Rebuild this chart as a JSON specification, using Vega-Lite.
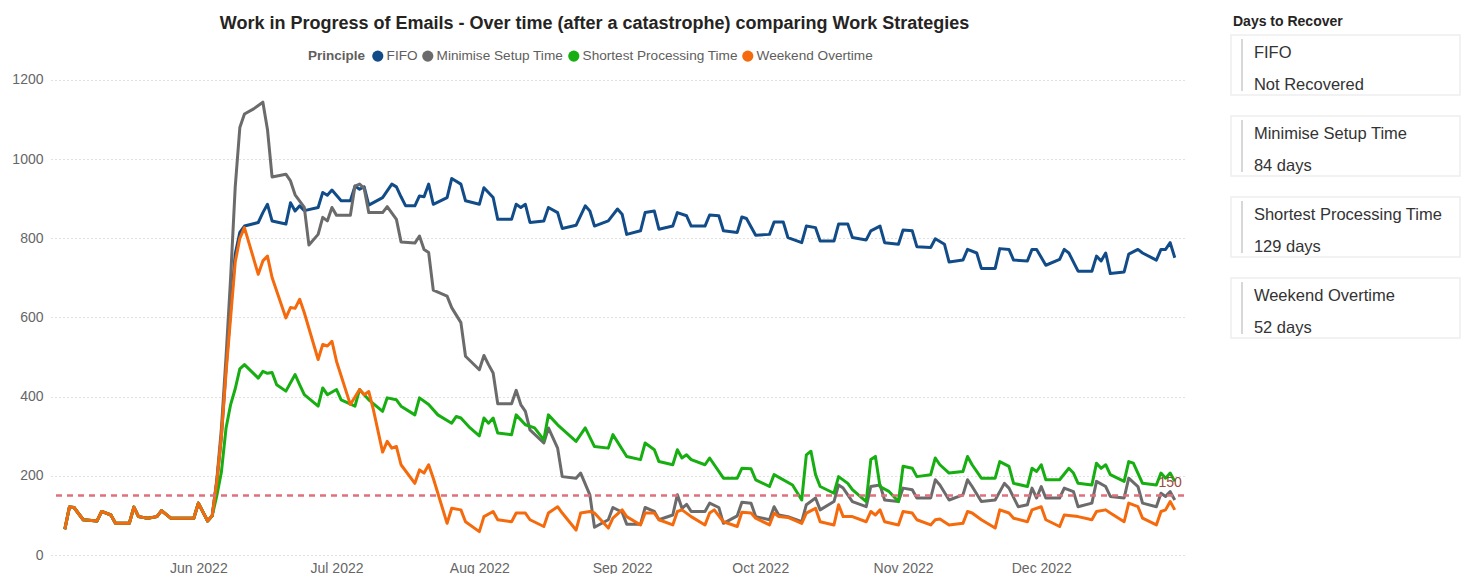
{
  "$schema": "https://vega.github.io/schema/vega-lite/v6.json",
  "background": "white",
  "padding": {"left": 11, "top": 15, "right": 0, "bottom": 0},
  "spacing": 44,
  "datasets": {
    "fifo": [
      {"d":"2022-05-03","v":65},{"d":"2022-05-04","v":121},{"d":"2022-05-05","v":120},{"d":"2022-05-07","v":89},{"d":"2022-05-10","v":86},{"d":"2022-05-11","v":110},{"d":"2022-05-13","v":101},{"d":"2022-05-14","v":80},{"d":"2022-05-17","v":80},{"d":"2022-05-18","v":121},{"d":"2022-05-19","v":97},{"d":"2022-05-21","v":93},{"d":"2022-05-23","v":97},{"d":"2022-05-24","v":112},{"d":"2022-05-26","v":93},{"d":"2022-05-31","v":93},{"d":"2022-06-01","v":131},{"d":"2022-06-03","v":86},{"d":"2022-06-04","v":99},
      {"d":"2022-06-05","v":185},{"d":"2022-06-06","v":300},{"d":"2022-06-07","v":470},{"d":"2022-06-08","v":620},{"d":"2022-06-09","v":760},{"d":"2022-06-10","v":815},{"d":"2022-06-11","v":831},{"d":"2022-06-14","v":840},{"d":"2022-06-15","v":865},{"d":"2022-06-16","v":886},{"d":"2022-06-17","v":844},{"d":"2022-06-20","v":836},{"d":"2022-06-21","v":890},{"d":"2022-06-22","v":869},{"d":"2022-06-23","v":882},{"d":"2022-06-24","v":870},{"d":"2022-06-27","v":878},{"d":"2022-06-28","v":916},{"d":"2022-06-29","v":909},{"d":"2022-06-30","v":922},{"d":"2022-07-02","v":895},{"d":"2022-07-04","v":895},{"d":"2022-07-05","v":932},{"d":"2022-07-06","v":924},{"d":"2022-07-07","v":930},{"d":"2022-07-08","v":884},{"d":"2022-07-11","v":903},{"d":"2022-07-13","v":937},{"d":"2022-07-14","v":930},{"d":"2022-07-15","v":905},{"d":"2022-07-16","v":882},{"d":"2022-07-18","v":882},{"d":"2022-07-19","v":907},{"d":"2022-07-20","v":905},{"d":"2022-07-21","v":937},{"d":"2022-07-22","v":886},{"d":"2022-07-25","v":903},{"d":"2022-07-26","v":951},{"d":"2022-07-28","v":937},{"d":"2022-07-29","v":895},{"d":"2022-08-01","v":886},{"d":"2022-08-02","v":928},{"d":"2022-08-04","v":903},{"d":"2022-08-05","v":848},{"d":"2022-08-08","v":848},{"d":"2022-08-09","v":886},{"d":"2022-08-10","v":878},{"d":"2022-08-11","v":886},{"d":"2022-08-12","v":840},{"d":"2022-08-15","v":844},{"d":"2022-08-16","v":878},{"d":"2022-08-18","v":865},{"d":"2022-08-19","v":825},{"d":"2022-08-22","v":833},{"d":"2022-08-24","v":882},{"d":"2022-08-25","v":869},{"d":"2022-08-26","v":831},{"d":"2022-08-29","v":844},{"d":"2022-08-31","v":874},{"d":"2022-09-01","v":861},{"d":"2022-09-02","v":810},{"d":"2022-09-05","v":819},{"d":"2022-09-06","v":865},{"d":"2022-09-08","v":869},{"d":"2022-09-09","v":823},{"d":"2022-09-12","v":831},{"d":"2022-09-13","v":865},{"d":"2022-09-15","v":857},{"d":"2022-09-16","v":831},{"d":"2022-09-19","v":831},{"d":"2022-09-20","v":859},{"d":"2022-09-22","v":857},{"d":"2022-09-23","v":819},{"d":"2022-09-26","v":815},{"d":"2022-09-27","v":854},{"d":"2022-09-28","v":850},{"d":"2022-09-30","v":808},{"d":"2022-10-03","v":810},{"d":"2022-10-04","v":841},{"d":"2022-10-06","v":841},{"d":"2022-10-07","v":802},{"d":"2022-10-10","v":789},{"d":"2022-10-11","v":831},{"d":"2022-10-13","v":827},{"d":"2022-10-14","v":793},{"d":"2022-10-17","v":793},{"d":"2022-10-18","v":836},{"d":"2022-10-20","v":836},{"d":"2022-10-21","v":802},{"d":"2022-10-24","v":796},{"d":"2022-10-25","v":819},{"d":"2022-10-27","v":831},{"d":"2022-10-28","v":789},{"d":"2022-10-31","v":785},{"d":"2022-11-01","v":821},{"d":"2022-11-03","v":819},{"d":"2022-11-04","v":779},{"d":"2022-11-07","v":777},{"d":"2022-11-08","v":799},{"d":"2022-11-10","v":785},{"d":"2022-11-11","v":740},{"d":"2022-11-14","v":745},{"d":"2022-11-15","v":772},{"d":"2022-11-17","v":763},{"d":"2022-11-18","v":724},{"d":"2022-11-21","v":724},{"d":"2022-11-22","v":774},{"d":"2022-11-24","v":772},{"d":"2022-11-25","v":745},{"d":"2022-11-28","v":743},{"d":"2022-11-29","v":772},{"d":"2022-11-30","v":772},{"d":"2022-12-02","v":732},{"d":"2022-12-05","v":747},{"d":"2022-12-06","v":772},{"d":"2022-12-07","v":763},{"d":"2022-12-09","v":717},{"d":"2022-12-12","v":717},{"d":"2022-12-13","v":755},{"d":"2022-12-14","v":743},{"d":"2022-12-15","v":763},{"d":"2022-12-16","v":711},{"d":"2022-12-19","v":715},{"d":"2022-12-20","v":760},{"d":"2022-12-22","v":772},{"d":"2022-12-23","v":763},{"d":"2022-12-26","v":745},{"d":"2022-12-27","v":772},{"d":"2022-12-28","v":772},{"d":"2022-12-29","v":789},{"d":"2022-12-30","v":751}
    ],
    "mst": [
      {"d":"2022-05-03","v":65},{"d":"2022-05-04","v":121},{"d":"2022-05-05","v":120},{"d":"2022-05-07","v":89},{"d":"2022-05-10","v":86},{"d":"2022-05-11","v":110},{"d":"2022-05-13","v":101},{"d":"2022-05-14","v":80},{"d":"2022-05-17","v":80},{"d":"2022-05-18","v":121},{"d":"2022-05-19","v":97},{"d":"2022-05-21","v":93},{"d":"2022-05-23","v":97},{"d":"2022-05-24","v":112},{"d":"2022-05-26","v":93},{"d":"2022-05-31","v":93},{"d":"2022-06-01","v":131},{"d":"2022-06-03","v":86},{"d":"2022-06-04","v":99},
      {"d":"2022-06-05","v":190},{"d":"2022-06-06","v":320},{"d":"2022-06-07","v":500},{"d":"2022-06-08","v":700},{"d":"2022-06-09","v":930},{"d":"2022-06-10","v":1080},{"d":"2022-06-11","v":1114},{"d":"2022-06-13","v":1127},{"d":"2022-06-15","v":1144},{"d":"2022-06-16","v":1075},{"d":"2022-06-17","v":955},{"d":"2022-06-20","v":962},{"d":"2022-06-21","v":945},{"d":"2022-06-22","v":910},{"d":"2022-06-24","v":878},{"d":"2022-06-25","v":783},{"d":"2022-06-27","v":810},{"d":"2022-06-28","v":853},{"d":"2022-06-29","v":844},{"d":"2022-06-30","v":878},{"d":"2022-07-01","v":858},{"d":"2022-07-04","v":858},{"d":"2022-07-05","v":932},{"d":"2022-07-06","v":937},{"d":"2022-07-07","v":926},{"d":"2022-07-08","v":865},{"d":"2022-07-11","v":865},{"d":"2022-07-12","v":880},{"d":"2022-07-14","v":848},{"d":"2022-07-15","v":791},{"d":"2022-07-18","v":788},{"d":"2022-07-19","v":806},{"d":"2022-07-20","v":772},{"d":"2022-07-21","v":764},{"d":"2022-07-22","v":669},{"d":"2022-07-25","v":654},{"d":"2022-07-26","v":625},{"d":"2022-07-28","v":587},{"d":"2022-07-29","v":502},{"d":"2022-08-01","v":468},{"d":"2022-08-02","v":504},{"d":"2022-08-03","v":481},{"d":"2022-08-04","v":460},{"d":"2022-08-05","v":382},{"d":"2022-08-08","v":382},{"d":"2022-08-09","v":416},{"d":"2022-08-10","v":380},{"d":"2022-08-11","v":363},{"d":"2022-08-12","v":316},{"d":"2022-08-15","v":283},{"d":"2022-08-16","v":321},{"d":"2022-08-18","v":270},{"d":"2022-08-19","v":198},{"d":"2022-08-22","v":194},{"d":"2022-08-23","v":207},{"d":"2022-08-25","v":152},{"d":"2022-08-26","v":70},{"d":"2022-08-29","v":89},{"d":"2022-08-30","v":120},{"d":"2022-09-01","v":108},{"d":"2022-09-02","v":78},{"d":"2022-09-05","v":78},{"d":"2022-09-06","v":120},{"d":"2022-09-08","v":110},{"d":"2022-09-09","v":89},{"d":"2022-09-12","v":101},{"d":"2022-09-13","v":152},{"d":"2022-09-14","v":118},{"d":"2022-09-15","v":128},{"d":"2022-09-16","v":110},{"d":"2022-09-19","v":110},{"d":"2022-09-20","v":131},{"d":"2022-09-22","v":120},{"d":"2022-09-23","v":80},{"d":"2022-09-26","v":99},{"d":"2022-09-27","v":133},{"d":"2022-09-29","v":131},{"d":"2022-09-30","v":97},{"d":"2022-10-03","v":89},{"d":"2022-10-04","v":122},{"d":"2022-10-05","v":101},{"d":"2022-10-07","v":97},{"d":"2022-10-10","v":84},{"d":"2022-10-11","v":127},{"d":"2022-10-13","v":144},{"d":"2022-10-14","v":114},{"d":"2022-10-17","v":135},{"d":"2022-10-18","v":177},{"d":"2022-10-19","v":169},{"d":"2022-10-21","v":135},{"d":"2022-10-24","v":122},{"d":"2022-10-25","v":173},{"d":"2022-10-27","v":177},{"d":"2022-10-28","v":139},{"d":"2022-10-31","v":135},{"d":"2022-11-01","v":169},{"d":"2022-11-03","v":165},{"d":"2022-11-04","v":144},{"d":"2022-11-07","v":144},{"d":"2022-11-08","v":190},{"d":"2022-11-09","v":177},{"d":"2022-11-11","v":139},{"d":"2022-11-14","v":152},{"d":"2022-11-15","v":190},{"d":"2022-11-16","v":173},{"d":"2022-11-18","v":135},{"d":"2022-11-21","v":139},{"d":"2022-11-23","v":181},{"d":"2022-11-24","v":169},{"d":"2022-11-26","v":122},{"d":"2022-11-28","v":127},{"d":"2022-11-29","v":169},{"d":"2022-11-30","v":144},{"d":"2022-12-01","v":173},{"d":"2022-12-02","v":144},{"d":"2022-12-05","v":144},{"d":"2022-12-06","v":169},{"d":"2022-12-08","v":160},{"d":"2022-12-09","v":122},{"d":"2022-12-12","v":131},{"d":"2022-12-13","v":186},{"d":"2022-12-15","v":173},{"d":"2022-12-16","v":148},{"d":"2022-12-19","v":144},{"d":"2022-12-20","v":194},{"d":"2022-12-22","v":173},{"d":"2022-12-23","v":131},{"d":"2022-12-26","v":122},{"d":"2022-12-27","v":156},{"d":"2022-12-28","v":148},{"d":"2022-12-29","v":160},{"d":"2022-12-30","v":139}
    ],
    "spt": [
      {"d":"2022-05-03","v":65},{"d":"2022-05-04","v":121},{"d":"2022-05-05","v":120},{"d":"2022-05-07","v":89},{"d":"2022-05-10","v":86},{"d":"2022-05-11","v":110},{"d":"2022-05-13","v":101},{"d":"2022-05-14","v":80},{"d":"2022-05-17","v":80},{"d":"2022-05-18","v":121},{"d":"2022-05-19","v":97},{"d":"2022-05-21","v":93},{"d":"2022-05-23","v":97},{"d":"2022-05-24","v":112},{"d":"2022-05-26","v":93},{"d":"2022-05-31","v":93},{"d":"2022-06-01","v":131},{"d":"2022-06-03","v":86},{"d":"2022-06-04","v":99},
      {"d":"2022-06-05","v":150},{"d":"2022-06-06","v":210},{"d":"2022-06-07","v":320},{"d":"2022-06-08","v":380},{"d":"2022-06-09","v":420},{"d":"2022-06-10","v":470},{"d":"2022-06-11","v":481},{"d":"2022-06-14","v":447},{"d":"2022-06-15","v":464},{"d":"2022-06-16","v":459},{"d":"2022-06-17","v":461},{"d":"2022-06-18","v":430},{"d":"2022-06-20","v":414},{"d":"2022-06-22","v":456},{"d":"2022-06-23","v":430},{"d":"2022-06-24","v":405},{"d":"2022-06-27","v":376},{"d":"2022-06-28","v":422},{"d":"2022-06-29","v":405},{"d":"2022-07-01","v":418},{"d":"2022-07-02","v":392},{"d":"2022-07-05","v":376},{"d":"2022-07-06","v":418},{"d":"2022-07-07","v":405},{"d":"2022-07-08","v":392},{"d":"2022-07-11","v":363},{"d":"2022-07-12","v":397},{"d":"2022-07-14","v":392},{"d":"2022-07-15","v":376},{"d":"2022-07-18","v":354},{"d":"2022-07-19","v":397},{"d":"2022-07-21","v":380},{"d":"2022-07-23","v":354},{"d":"2022-07-26","v":333},{"d":"2022-07-27","v":350},{"d":"2022-07-28","v":346},{"d":"2022-07-30","v":321},{"d":"2022-08-01","v":301},{"d":"2022-08-02","v":346},{"d":"2022-08-03","v":333},{"d":"2022-08-04","v":346},{"d":"2022-08-05","v":308},{"d":"2022-08-08","v":304},{"d":"2022-08-09","v":354},{"d":"2022-08-11","v":329},{"d":"2022-08-13","v":321},{"d":"2022-08-15","v":291},{"d":"2022-08-16","v":354},{"d":"2022-08-18","v":329},{"d":"2022-08-20","v":308},{"d":"2022-08-22","v":287},{"d":"2022-08-24","v":321},{"d":"2022-08-26","v":274},{"d":"2022-08-29","v":270},{"d":"2022-08-30","v":304},{"d":"2022-09-02","v":249},{"d":"2022-09-05","v":241},{"d":"2022-09-06","v":283},{"d":"2022-09-08","v":266},{"d":"2022-09-09","v":236},{"d":"2022-09-12","v":228},{"d":"2022-09-13","v":266},{"d":"2022-09-14","v":245},{"d":"2022-09-15","v":253},{"d":"2022-09-16","v":241},{"d":"2022-09-19","v":228},{"d":"2022-09-20","v":245},{"d":"2022-09-23","v":194},{"d":"2022-09-26","v":194},{"d":"2022-09-27","v":219},{"d":"2022-09-29","v":218},{"d":"2022-09-30","v":190},{"d":"2022-10-03","v":173},{"d":"2022-10-04","v":203},{"d":"2022-10-08","v":177},{"d":"2022-10-10","v":139},{"d":"2022-10-11","v":253},{"d":"2022-10-12","v":262},{"d":"2022-10-13","v":203},{"d":"2022-10-14","v":173},{"d":"2022-10-17","v":156},{"d":"2022-10-18","v":198},{"d":"2022-10-20","v":181},{"d":"2022-10-21","v":165},{"d":"2022-10-24","v":135},{"d":"2022-10-25","v":241},{"d":"2022-10-26","v":249},{"d":"2022-10-27","v":173},{"d":"2022-10-29","v":160},{"d":"2022-10-31","v":135},{"d":"2022-11-01","v":224},{"d":"2022-11-03","v":219},{"d":"2022-11-04","v":198},{"d":"2022-11-07","v":203},{"d":"2022-11-08","v":245},{"d":"2022-11-09","v":228},{"d":"2022-11-11","v":207},{"d":"2022-11-14","v":211},{"d":"2022-11-15","v":249},{"d":"2022-11-16","v":228},{"d":"2022-11-18","v":194},{"d":"2022-11-21","v":194},{"d":"2022-11-22","v":236},{"d":"2022-11-24","v":224},{"d":"2022-11-25","v":181},{"d":"2022-11-28","v":173},{"d":"2022-11-29","v":219},{"d":"2022-11-30","v":211},{"d":"2022-12-01","v":228},{"d":"2022-12-02","v":190},{"d":"2022-12-05","v":190},{"d":"2022-12-07","v":219},{"d":"2022-12-08","v":207},{"d":"2022-12-09","v":181},{"d":"2022-12-12","v":177},{"d":"2022-12-13","v":232},{"d":"2022-12-14","v":219},{"d":"2022-12-15","v":228},{"d":"2022-12-16","v":203},{"d":"2022-12-19","v":186},{"d":"2022-12-20","v":236},{"d":"2022-12-21","v":232},{"d":"2022-12-23","v":181},{"d":"2022-12-26","v":177},{"d":"2022-12-27","v":207},{"d":"2022-12-28","v":194},{"d":"2022-12-29","v":207},{"d":"2022-12-30","v":186}
    ],
    "wo": [
      {"d":"2022-05-03","v":65},{"d":"2022-05-04","v":121},{"d":"2022-05-05","v":120},{"d":"2022-05-07","v":89},{"d":"2022-05-10","v":86},{"d":"2022-05-11","v":110},{"d":"2022-05-13","v":101},{"d":"2022-05-14","v":80},{"d":"2022-05-17","v":80},{"d":"2022-05-18","v":121},{"d":"2022-05-19","v":97},{"d":"2022-05-21","v":93},{"d":"2022-05-23","v":97},{"d":"2022-05-24","v":112},{"d":"2022-05-26","v":93},{"d":"2022-05-31","v":93},{"d":"2022-06-01","v":131},{"d":"2022-06-03","v":86},{"d":"2022-06-04","v":99},
      {"d":"2022-06-05","v":185},{"d":"2022-06-06","v":300},{"d":"2022-06-07","v":460},{"d":"2022-06-08","v":600},{"d":"2022-06-09","v":740},{"d":"2022-06-10","v":800},{"d":"2022-06-11","v":827},{"d":"2022-06-14","v":709},{"d":"2022-06-15","v":743},{"d":"2022-06-16","v":755},{"d":"2022-06-17","v":701},{"d":"2022-06-20","v":599},{"d":"2022-06-21","v":625},{"d":"2022-06-22","v":623},{"d":"2022-06-23","v":646},{"d":"2022-06-24","v":612},{"d":"2022-06-27","v":494},{"d":"2022-06-28","v":532},{"d":"2022-06-29","v":528},{"d":"2022-06-30","v":540},{"d":"2022-07-01","v":489},{"d":"2022-07-04","v":380},{"d":"2022-07-06","v":418},{"d":"2022-07-07","v":405},{"d":"2022-07-08","v":413},{"d":"2022-07-09","v":367},{"d":"2022-07-11","v":260},{"d":"2022-07-12","v":287},{"d":"2022-07-13","v":270},{"d":"2022-07-14","v":274},{"d":"2022-07-15","v":228},{"d":"2022-07-18","v":181},{"d":"2022-07-19","v":215},{"d":"2022-07-20","v":207},{"d":"2022-07-21","v":228},{"d":"2022-07-22","v":194},{"d":"2022-07-25","v":80},{"d":"2022-07-26","v":118},{"d":"2022-07-28","v":114},{"d":"2022-07-29","v":84},{"d":"2022-08-01","v":59},{"d":"2022-08-02","v":97},{"d":"2022-08-04","v":110},{"d":"2022-08-05","v":89},{"d":"2022-08-08","v":84},{"d":"2022-08-09","v":106},{"d":"2022-08-11","v":106},{"d":"2022-08-12","v":89},{"d":"2022-08-15","v":72},{"d":"2022-08-16","v":106},{"d":"2022-08-18","v":122},{"d":"2022-08-19","v":106},{"d":"2022-08-22","v":63},{"d":"2022-08-23","v":106},{"d":"2022-08-25","v":110},{"d":"2022-08-26","v":106},{"d":"2022-08-29","v":68},{"d":"2022-08-30","v":93},{"d":"2022-09-01","v":114},{"d":"2022-09-02","v":97},{"d":"2022-09-05","v":76},{"d":"2022-09-06","v":106},{"d":"2022-09-08","v":106},{"d":"2022-09-09","v":89},{"d":"2022-09-12","v":76},{"d":"2022-09-13","v":110},{"d":"2022-09-14","v":114},{"d":"2022-09-16","v":97},{"d":"2022-09-19","v":76},{"d":"2022-09-20","v":106},{"d":"2022-09-21","v":114},{"d":"2022-09-23","v":84},{"d":"2022-09-26","v":72},{"d":"2022-09-27","v":108},{"d":"2022-09-29","v":106},{"d":"2022-09-30","v":93},{"d":"2022-10-03","v":76},{"d":"2022-10-04","v":106},{"d":"2022-10-05","v":97},{"d":"2022-10-07","v":95},{"d":"2022-10-10","v":80},{"d":"2022-10-11","v":106},{"d":"2022-10-13","v":118},{"d":"2022-10-14","v":84},{"d":"2022-10-17","v":76},{"d":"2022-10-18","v":127},{"d":"2022-10-19","v":97},{"d":"2022-10-21","v":97},{"d":"2022-10-24","v":84},{"d":"2022-10-25","v":110},{"d":"2022-10-26","v":101},{"d":"2022-10-27","v":114},{"d":"2022-10-28","v":84},{"d":"2022-10-31","v":76},{"d":"2022-11-01","v":110},{"d":"2022-11-03","v":106},{"d":"2022-11-04","v":89},{"d":"2022-11-07","v":76},{"d":"2022-11-08","v":89},{"d":"2022-11-09","v":91},{"d":"2022-11-11","v":76},{"d":"2022-11-14","v":80},{"d":"2022-11-15","v":110},{"d":"2022-11-16","v":106},{"d":"2022-11-18","v":89},{"d":"2022-11-21","v":68},{"d":"2022-11-22","v":114},{"d":"2022-11-24","v":106},{"d":"2022-11-25","v":93},{"d":"2022-11-28","v":84},{"d":"2022-11-29","v":114},{"d":"2022-12-01","v":122},{"d":"2022-12-02","v":89},{"d":"2022-12-05","v":72},{"d":"2022-12-06","v":101},{"d":"2022-12-09","v":97},{"d":"2022-12-12","v":89},{"d":"2022-12-13","v":110},{"d":"2022-12-15","v":114},{"d":"2022-12-16","v":106},{"d":"2022-12-19","v":84},{"d":"2022-12-20","v":131},{"d":"2022-12-22","v":122},{"d":"2022-12-23","v":93},{"d":"2022-12-26","v":76},{"d":"2022-12-27","v":110},{"d":"2022-12-28","v":114},{"d":"2022-12-29","v":135},{"d":"2022-12-30","v":114}
    ],
    "cards": [
      {"principle":"FIFO","days":"Not Recovered"},
      {"principle":"Minimise Setup Time","days":"84 days"},
      {"principle":"Shortest Processing Time","days":"129 days"},
      {"principle":"Weekend Overtime","days":"52 days"}
    ]
  },
  "hconcat": [
    {
      "width": 1133,
      "height": 520,
      "title": {"text": "Work in Progress of Emails - Over time (after a catastrophe) comparing Work Strategies", "font": "Liberation Sans", "fontSize": 18, "fontWeight": "bold", "color": "#252423", "anchor": "middle", "frame": "bounds", "offset": 2, "dx": -4},
      "layer": [
        {
          "encoding": {
            "x": {"field": "d", "type": "temporal", "title": null,
              "scale": {"type": "utc", "domain": [{"year": 2022, "month": 4, "date": 30, "utc": true}, {"year": 2023, "month": 1, "date": 1, "utc": true}]},
              "axis": {"format": "%b %Y", "grid": false, "domain": false, "ticks": false, "labelPadding": 6, "labelFont": "Liberation Sans", "labelFontSize": 14, "labelColor": "#666666",
                "values": [{"year": 2022, "month": 6, "date": 1, "utc": true}, {"year": 2022, "month": 7, "date": 1, "utc": true}, {"year": 2022, "month": 8, "date": 1, "utc": true}, {"year": 2022, "month": 9, "date": 1, "utc": true}, {"year": 2022, "month": 10, "date": 1, "utc": true}, {"year": 2022, "month": 11, "date": 1, "utc": true}, {"year": 2022, "month": 12, "date": 1, "utc": true}]}},
            "y": {"field": "v", "type": "quantitative", "title": null,
              "scale": {"domain": [0, 1313.68], "nice": false},
              "axis": {"values": [0, 200, 400, 600, 800, 1000, 1200], "format": "d", "grid": true, "gridDash": [1, 3], "gridColor": "#c4c4c4", "gridWidth": 1.2, "domain": false, "ticks": false, "labelPadding": 8, "labelFont": "Liberation Sans", "labelFontSize": 14, "labelColor": "#666666"}}
          },
          "layer": [
            {"data": {"name": "fifo"}, "mark": {"type": "line", "strokeWidth": 3, "strokeJoin": "round"},
              "encoding": {"color": {"datum": "FIFO", "type": "nominal",
                "scale": {"domain": ["FIFO", "Minimise Setup Time", "Shortest Processing Time", "Weekend Overtime"], "range": ["#124C88", "#6B6B6B", "#17AE12", "#F56A0C"]},
                "legend": {"orient": "none", "legendX": 257, "legendY": 14, "direction": "horizontal", "title": "Principle", "titleOrient": "left", "titleFont": "Liberation Sans", "titleFontSize": 13.5, "titleFontWeight": "bold", "titleColor": "#605E5C", "titlePadding": 5,
                  "labelFont": "Liberation Sans", "labelFontSize": 13.6, "labelColor": "#605E5C", "labelOffset": 2, "columnPadding": 3, "symbolType": "circle", "symbolSize": 125, "symbolStrokeWidth": 0,
                  "encode": {"symbols": {"update": {"fill": {"scale": "color", "field": "value"}, "opacity": {"value": 1}}}}}}}},
            {"data": {"name": "mst"}, "mark": {"type": "line", "strokeWidth": 3, "strokeJoin": "round"}, "encoding": {"color": {"datum": "Minimise Setup Time", "type": "nominal"}}},
            {"data": {"name": "spt"}, "mark": {"type": "line", "strokeWidth": 3, "strokeJoin": "round"}, "encoding": {"color": {"datum": "Shortest Processing Time", "type": "nominal"}}},
            {"data": {"name": "wo"}, "mark": {"type": "line", "strokeWidth": 3, "strokeJoin": "round"}, "encoding": {"color": {"datum": "Weekend Overtime", "type": "nominal"}}}
          ]
        },
        {
          "data": {"values": [{"target": 150}]},
          "mark": {"type": "rule", "color": "#E0707C", "strokeDash": [6, 5], "strokeWidth": 2.5},
          "encoding": {"y": {"field": "target", "type": "quantitative"}}
        },
        {
          "data": {"values": [{"target": 150}]},
          "mark": {"type": "text", "font": "Liberation Sans", "fontSize": 14, "color": "#9C4A3D", "dy": -13, "align": "center", "baseline": "middle"},
          "encoding": {
            "x": {"datum": {"year": 2022, "month": 12, "date": 29, "utc": true}, "type": "temporal"},
            "y": {"field": "target", "type": "quantitative"},
            "text": {"field": "target", "type": "quantitative"}
          }
        }
      ]
    },
    {
      "width": 229,
      "height": 303,
      "title": {"text": "Days to Recover", "font": "Liberation Sans", "fontSize": 14, "fontWeight": "bold", "color": "#252423", "anchor": "start", "frame": "group", "offset": 5, "dx": 2},
      "data": {"name": "cards"},
      "encoding": {
        "y": {"field": "principle", "type": "nominal", "sort": null, "axis": null, "scale": {"paddingInner": 0.26, "paddingOuter": 0}}
      },
      "layer": [
        {"mark": {"type": "bar", "fill": "white", "stroke": "#eeeeee", "strokeWidth": 1.5},
          "encoding": {"x": {"datum": 0, "type": "quantitative", "scale": {"domain": [0, 1], "nice": false, "zero": false}, "axis": null}, "x2": {"datum": 1}}},
        {"mark": {"type": "tick", "orient": "vertical", "color": "#c8c6c4", "thickness": 2, "size": 52},
          "encoding": {"x": {"datum": 0.048, "type": "quantitative"}}},
        {"mark": {"type": "text", "align": "left", "baseline": "middle", "dy": -12, "font": "Liberation Sans", "fontSize": 16.5, "color": "#333333"},
          "encoding": {"x": {"datum": 0.1, "type": "quantitative"}, "text": {"field": "principle"}}},
        {"mark": {"type": "text", "align": "left", "baseline": "middle", "dy": 20, "font": "Liberation Sans", "fontSize": 16.5, "color": "#333333"},
          "encoding": {"x": {"datum": 0.1, "type": "quantitative"}, "text": {"field": "days"}}}
      ]
    }
  ],
  "config": {
    "view": {"stroke": null},
    "font": "Liberation Sans"
  }
}
